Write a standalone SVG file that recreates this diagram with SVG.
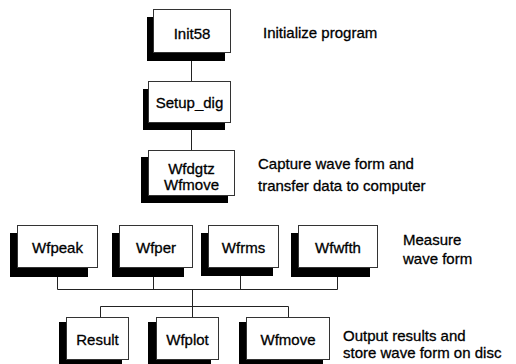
<svg xmlns="http://www.w3.org/2000/svg" width="516" height="364" viewBox="0 0 516 364">
<style>
.box{fill:#fff;stroke:#333;stroke-width:1}
.sh{fill:#000}
.lbl{font-family:"Liberation Sans",Arial,sans-serif;font-size:15px;fill:#000;stroke:#000;stroke-width:0.3;text-anchor:middle}
.note{font-family:"Liberation Sans",Arial,sans-serif;font-size:15px;fill:#000;stroke:#000;stroke-width:0.3}
.conn{stroke:#222;stroke-width:1;fill:none}
</style>
<rect width="516" height="364" fill="#fff"/>
<g id="connectors">
<path class="conn" d="M191.5 53V82M191.5 123V150"/>
<path class="conn" d="M57.5 267V289.5M153.5 267V289.5M240.5 267V289.5M337.5 267V289.5M57.5 289.5H337.5"/>
<path class="conn" d="M192.5 289.5V317M100.5 317V306.5H288.5V317"/>
</g>
<g id="init58">
<rect class="sh" x="147" y="17" width="78" height="44"/>
<rect class="box" x="153.5" y="9.5" width="77" height="43"/>
<text class="lbl" x="192" y="39">Init58</text>
</g>
<g id="setup_dig">
<rect class="sh" x="143" y="89" width="82" height="41"/>
<rect class="box" x="148.5" y="81.5" width="82" height="41"/>
<text class="lbl" x="189.5" y="108">Setup_dig</text>
</g>
<g id="wfdgtz">
<rect class="sh" x="141" y="157" width="87" height="46"/>
<rect class="box" x="148.5" y="150.5" width="86" height="45"/>
<text class="lbl" x="191.5" y="174">Wfdgtz</text>
<text class="lbl" x="191.5" y="190">Wfmove</text>
</g>
<g id="wfpeak">
<rect class="sh" x="10" y="233" width="78" height="44"/>
<rect class="box" x="17.5" y="225.5" width="80" height="42"/>
<text class="lbl" x="57.5" y="253">Wfpeak</text>
</g>
<g id="wfper">
<rect class="sh" x="112" y="233" width="72" height="44"/>
<rect class="box" x="119.5" y="225.5" width="73" height="42"/>
<text class="lbl" x="156" y="253">Wfper</text>
</g>
<g id="wfrms">
<rect class="sh" x="201" y="233" width="72" height="43"/>
<rect class="box" x="208.5" y="225.5" width="70" height="42"/>
<text class="lbl" x="243.5" y="253">Wfrms</text>
</g>
<g id="wfwfth">
<rect class="sh" x="291" y="233" width="79" height="44"/>
<rect class="box" x="298.5" y="225.5" width="79" height="42"/>
<text class="lbl" x="338" y="253">Wfwfth</text>
</g>
<g id="result">
<rect class="sh" x="59" y="322" width="63" height="46"/>
<rect class="box" x="66.5" y="317.5" width="62" height="42"/>
<text class="lbl" x="97.5" y="345">Result</text>
</g>
<g id="wfplot">
<rect class="sh" x="148" y="322" width="63" height="46"/>
<rect class="box" x="156.5" y="317.5" width="62" height="42"/>
<text class="lbl" x="187.5" y="345">Wfplot</text>
</g>
<g id="wfmove2">
<rect class="sh" x="239" y="322" width="84" height="46"/>
<rect class="box" x="246.5" y="317.5" width="83" height="42"/>
<text class="lbl" x="288" y="345">Wfmove</text>
</g>
<g id="notes">
<text class="note" x="263" y="38">Initialize program</text>
<text class="note" x="258" y="169">Capture wave form and</text>
<text class="note" x="258" y="191">transfer data to computer</text>
<text class="note" x="403" y="245">Measure</text>
<text class="note" x="403" y="264">wave form</text>
<text class="note" x="343" y="341">Output results and</text>
<text class="note" x="343" y="358">store wave form on disc</text>
</g>
</svg>
